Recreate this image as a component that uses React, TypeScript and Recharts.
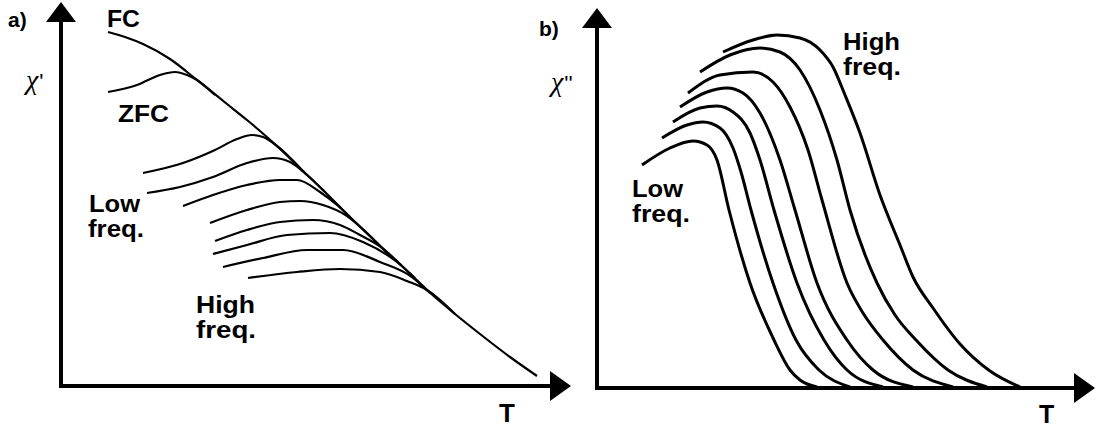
import React from "react";
import { LineChart, Line, XAxis, YAxis, ReferenceLine, ReferenceDot } from "recharts";

type Pt = [number, number];

// ---- Panel a: real part chi' versus temperature (arbitrary units) ----
const FC_A: Pt[] = [
  [23.5, 177], [32, 174.5], [41, 171], [54.5, 163.5], [68, 153], [83, 141], [93, 133],
  [108, 120], [119.5, 109], [132, 97], [144.5, 84.5], [158, 71.5], [170.5, 60], [183, 48],
  [197, 36], [209.5, 26], [224.5, 14.5], [238, 5],
];
const ZFC_A: Pt[] = [[23.5, 147], [38, 150.5], [49.5, 155.5], [57, 157], [63, 155.5], [68, 153], [77, 145.5]];

// AC curves, lowest to highest frequency
const AC_A1: Pt[] = [[41, 106.5], [61, 111.5], [77, 118], [88, 123.5], [95.5, 125.5], [101, 124.5], [108, 120], [119.5, 109]];
const AC_A2: Pt[] = [[43, 96.5], [59.5, 99.5], [76, 104.5], [93, 111.5], [106, 114], [114.5, 112], [123, 105.5], [132, 97]];
const AC_A3: Pt[] = [[61, 90], [76, 95.5], [93, 100.5], [109.5, 103], [118, 103], [129.5, 97], [138, 90.5], [144.5, 84.5]];
const AC_A4: Pt[] = [[74.5, 81.5], [93, 88], [109.5, 92], [119.5, 92.5], [131, 90.5], [143, 85], [153, 76.5], [164.5, 65]];
const AC_A5: Pt[] = [[77, 72.5], [93, 78], [109.5, 82], [126, 83], [139.5, 80.5], [149.5, 75.5], [159.5, 69.8], [170.5, 60]];
const AC_A6: Pt[] = [[76, 66], [93, 70.5], [113, 75.5], [134.5, 76.5], [151, 72], [168, 62], [177, 54]];
const AC_A7: Pt[] = [[81, 59.5], [101, 64], [123, 68], [141, 68], [159.5, 62], [175.5, 54.5], [184.5, 46.5]];
const AC_A8: Pt[] = [[93.5, 54], [118, 57], [139.5, 58.5], [159.5, 57], [173, 52.5], [183, 48], [197, 36]];
const AC_A = [AC_A1, AC_A2, AC_A3, AC_A4, AC_A5, AC_A6, AC_A7, AC_A8];

// ---- Panel b: imaginary part chi'' versus temperature ----
const AC_B1: Pt[] = [[22.5, 111.5], [36.5, 120], [48, 123.5], [55, 121.5], [60, 114], [66, 89], [76.5, 52.5], [88.5, 24], [96.5, 9], [101.5, 4], [110, 0.5]];
const AC_B2: Pt[] = [[32.5, 125], [45, 131.5], [53, 133], [61.5, 130], [68, 120], [72, 108], [77, 89], [88, 52.5], [99.5, 24], [111, 9], [126.5, 0.5]];
const AC_B3: Pt[] = [[38, 133], [51.5, 140], [60, 141], [68, 138], [76.5, 127.5], [81.5, 114], [88.5, 89], [100, 52.5], [113.5, 24], [125, 9], [143, 0.5]];
const AC_B4: Pt[] = [[41.5, 140.5], [55, 148], [65, 150], [73, 147.5], [81.5, 137.5], [91.5, 114], [99, 89], [110, 52.5], [125, 24], [138, 9], [158, 0.5]];
const AC_B5: Pt[] = [[45.5, 147.5], [61.5, 156.5], [78, 158], [88, 153], [96.5, 140.5], [105.5, 119], [112.5, 94], [125, 52.5], [133, 37.5], [143, 24], [158, 9], [178, 0.5]];
const AC_B6: Pt[] = [[51.5, 158], [66.5, 166.5], [81.5, 170], [91.5, 168], [101.5, 159], [111.5, 139], [120, 114], [126.5, 89], [140, 52.5], [149, 36.5], [159.5, 24], [175.5, 9], [195, 0.5]];
const AC_B7: Pt[] = [[63, 168], [78, 174], [90, 176.5], [101.5, 175], [111.5, 169], [118, 160.5], [124, 146.5], [131.5, 127.5], [141.5, 96.5], [151.5, 71.5], [158, 55.5], [168, 40], [181.5, 22], [196.5, 8.5], [211.5, 0.5]];
const AC_B = [AC_B1, AC_B2, AC_B3, AC_B4, AC_B5, AC_B6, AC_B7];

const A_X_MAX = 255;
const A_Y_MAX = 192;
const B_X_MAX = 249;
const B_Y_MAX = 190;

const toRows = (pts: Pt[]) => pts.map(([t, v]) => ({ t, v }));

const ArrowUp = (props: any) => {
  const { cx, cy } = props;
  return <polygon points={`${cx},${cy} ${cx - 15},${cy + 20} ${cx + 15},${cy + 20}`} fill="#000" />;
};
const ArrowRight = (props: any) => {
  const { cx, cy } = props;
  return <polygon points={`${cx},${cy} ${cx - 21},${cy - 15} ${cx - 21},${cy + 15}`} fill="#000" />;
};

const SANS = "'Liberation Sans', Arial, Helvetica, sans-serif";
const SERIF = "'Liberation Serif', 'Times New Roman', serif";

// Bold annotation word with a fixed drawn width
const Word = ({ x, y, w, children }: { x: number; y: number; w: number; children: string }) => (
  <text x={x} y={y} fontSize={23} textLength={w} lengthAdjust="spacingAndGlyphs">
    {children}
  </text>
);

export default function App() {
  const axisStroke = { stroke: "#000", strokeWidth: 4 };
  return (
    <div style={{ position: "absolute", left: 0, top: 0, width: 1100, height: 429, background: "#fff", overflow: "hidden" }}>
      <div style={{ position: "absolute", left: 0, top: 0 }}>
        <LineChart width={600} height={429} margin={{ top: 2, right: 29, bottom: 43, left: 61 }}>
          <XAxis type="number" dataKey="t" domain={[0, A_X_MAX]} hide />
          <YAxis type="number" dataKey="v" domain={[0, A_Y_MAX]} hide />
          <ReferenceLine segment={[{ x: 0, y: 0 }, { x: 0, y: A_Y_MAX - 6 }]} {...axisStroke} ifOverflow="visible" />
          <ReferenceLine segment={[{ x: -1, y: 0 }, { x: A_X_MAX - 6, y: 0 }]} {...axisStroke} ifOverflow="visible" />
          <ReferenceDot x={0} y={A_Y_MAX} r={1} shape={ArrowUp} ifOverflow="visible" />
          <ReferenceDot x={A_X_MAX} y={0} r={1} shape={ArrowRight} ifOverflow="visible" />
          <Line data={toRows(FC_A)} dataKey="v" type="monotone" stroke="#000" strokeWidth={2.2} dot={false} isAnimationActive={false} />
          <Line data={toRows(ZFC_A)} dataKey="v" type="monotone" stroke="#000" strokeWidth={2.2} dot={false} isAnimationActive={false} />
          {AC_A.map((c, i) => (
            <Line key={`a${i}`} data={toRows(c)} dataKey="v" type="monotone" stroke="#000" strokeWidth={2.2} dot={false} isAnimationActive={false} />
          ))}
        </LineChart>
      </div>
      <div style={{ position: "absolute", left: 560, top: 0 }}>
        <LineChart width={540} height={429} margin={{ top: 8, right: 5, bottom: 41, left: 37 }}>
          <XAxis type="number" dataKey="t" domain={[0, B_X_MAX]} hide />
          <YAxis type="number" dataKey="v" domain={[0, B_Y_MAX]} hide />
          <ReferenceLine segment={[{ x: 0, y: 0 }, { x: 0, y: B_Y_MAX - 6 }]} {...axisStroke} ifOverflow="visible" />
          <ReferenceLine segment={[{ x: -1, y: 0 }, { x: B_X_MAX - 6, y: 0 }]} {...axisStroke} ifOverflow="visible" />
          <ReferenceDot x={0} y={B_Y_MAX} r={1} shape={ArrowUp} ifOverflow="visible" />
          <ReferenceDot x={B_X_MAX} y={0} r={1} shape={ArrowRight} ifOverflow="visible" />
          {AC_B.map((c, i) => (
            <Line key={`b${i}`} data={toRows(c)} dataKey="v" type="monotone" stroke="#000" strokeWidth={3} dot={false} isAnimationActive={false} />
          ))}
        </LineChart>
      </div>
      <svg width={1100} height={429} style={{ position: "absolute", left: 0, top: 0, pointerEvents: "none" }}>
        <g fontFamily={SANS} fontWeight="bold" fill="#000">
          <text x={8} y={27} fontSize={21}>a)</text>
          <Word x={107} y={27} w={33}>FC</Word>
          <Word x={118} y={122} w={51}>ZFC</Word>
          <Word x={89} y={212} w={51}>Low</Word>
          <Word x={88} y={237} w={56}>freq.</Word>
          <Word x={196} y={313} w={59}>High</Word>
          <Word x={196} y={338} w={60}>freq.</Word>
          <text x={499} y={422} fontSize={26}>T</text>
          <text x={539} y={36} fontSize={21}>b)</text>
          <Word x={843} y={50} w={57}>High</Word>
          <Word x={843} y={75} w={58}>freq.</Word>
          <Word x={632} y={197} w={51}>Low</Word>
          <Word x={632} y={222} w={58}>freq.</Word>
          <text x={1039} y={423} fontSize={25}>T</text>
        </g>
        <g fontFamily={SERIF} fill="#000">
          <text x={26} y={89} fontSize={28}>
            <tspan fontStyle="italic">χ</tspan>
            <tspan fontFamily={SANS} fontSize={22} dx={1}>'</tspan>
          </text>
          <text x={551} y={91} fontSize={28}>
            <tspan fontStyle="italic">χ</tspan>
            <tspan fontFamily={SANS} fontSize={22} dx={1}>''</tspan>
          </text>
        </g>
      </svg>
    </div>
  );
}
